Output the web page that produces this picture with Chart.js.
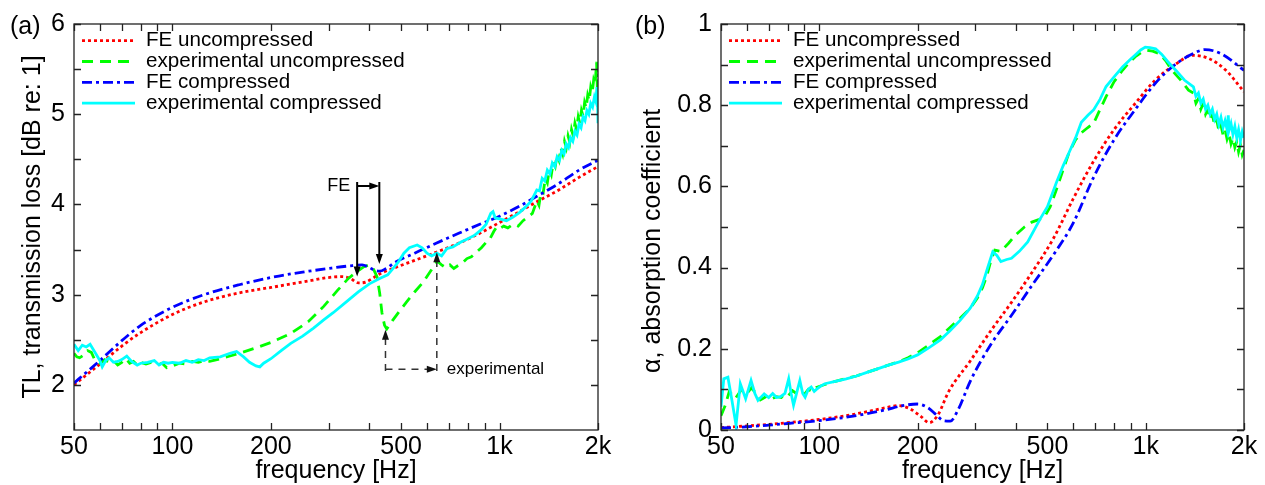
<!DOCTYPE html>
<html>
<head>
<meta charset="utf-8">
<title>TL and absorption</title>
<script src="https://cdn.jsdelivr.net/npm/chart.js@4.4.1/dist/chart.umd.min.js"></script>
<style>
  html, body { margin: 0; padding: 0; background: #fff; }
  canvas { position: absolute; top: 0; }
  #chartA { left: 0; }
  #chartB { left: 620px; }
</style>
</head>
<body>
<canvas id="chartA" width="620" height="485"></canvas>
<canvas id="chartB" width="645" height="485"></canvas>
<script>
// ---------- data ----------
const seriesNames = ['FE uncompressed', 'experimental uncompressed', 'FE compressed', 'experimental compressed'];

// frequency axis (Hz)
const freqTicks = [50, 60, 70, 80, 90, 100, 200, 300, 400, 500, 600, 700, 800, 900, 1000, 2000];
const freqLabelValues = [50, 100, 200, 500, 1000, 2000];
const freqLabelText = ['50', '100', '200', '500', '1k', '2k'];

// (a) transmission loss axis
const tlTicks = [2, 2.5, 3, 3.5, 4, 4.5, 5, 5.5, 6];
const tlTickText = ['2', '', '3', '', '4', '', '5', '', '6'];
// (b) absorption axis
const alphaTicks = [0, 0.1, 0.2, 0.3, 0.4, 0.5, 0.6, 0.7, 0.8, 0.9, 1];
const alphaTickText = ['0', '', '0.2', '', '0.4', '', '0.6', '', '0.8', '', '1'];

// (a) TL, FE uncompressed
const tlFeUncFreq = [50, 55, 60, 70, 80, 100, 125, 160, 200, 250,
  300, 330, 350, 370, 390, 430, 480, 550, 640, 750,
  870, 1000, 1150, 1300, 1500, 1750, 2000];
const tlFeUnc = [2.00, 2.12, 2.23, 2.43, 2.58, 2.78, 2.92, 3.02, 3.08, 3.14,
  3.19, 3.20, 3.18, 3.13, 3.14, 3.23, 3.30, 3.38, 3.47, 3.57,
  3.68, 3.80, 3.92, 4.03, 4.15, 4.30, 4.42];

// (a) TL, FE compressed
const tlFeCmpFreq = [50, 55, 60, 70, 80, 100, 125, 160, 200, 250,
  300, 350, 380, 400, 415, 430, 450, 480, 550, 640,
  750, 870, 1000, 1150, 1300, 1500, 1750, 2000];
const tlFeCmp = [2.02, 2.15, 2.27, 2.49, 2.66, 2.86, 3.00, 3.11, 3.19, 3.25,
  3.29, 3.32, 3.33, 3.30, 3.27, 3.26, 3.29, 3.36, 3.46, 3.57,
  3.68, 3.78, 3.87, 3.98, 4.09, 4.22, 4.38, 4.49];

// (a) TL, experimental uncompressed
const tlExpUncFreq = [50, 51, 52, 53.5, 55, 56.5, 58, 60, 62, 64,
  66, 68, 70, 72, 74, 76, 78, 80, 83, 86,
  90, 93, 96, 100, 105, 110, 115, 120, 125, 130,
  140, 150, 160, 180, 200, 230, 260, 290, 320, 345,
  365, 385, 400, 412, 422, 430, 437, 445, 452, 470,
  495, 520, 550, 585, 615, 645, 665, 685, 705, 725,
  745, 770, 795, 820, 850, 880, 910, 935, 960, 980,
  1000, 1030, 1060, 1100, 1140, 1180, 1220, 1260, 1300, 1320,
  1340, 1360, 1380, 1400, 1420, 1440, 1460, 1480, 1500, 1520,
  1540, 1560, 1580, 1600, 1620, 1640, 1660, 1680, 1700, 1720,
  1740, 1760, 1780, 1800, 1820, 1840, 1860, 1880, 1900, 1920,
  1940, 1960, 1980, 1990, 2000];
const tlExpUnc = [2.35, 2.31, 2.30, 2.33, 2.38, 2.36, 2.27, 2.24, 2.28, 2.25,
  2.27, 2.22, 2.25, 2.29, 2.24, 2.26, 2.22, 2.25, 2.23, 2.25,
  2.22, 2.24, 2.19, 2.21, 2.24, 2.23, 2.26, 2.25, 2.27, 2.26,
  2.29, 2.32, 2.35, 2.41, 2.47, 2.57, 2.70, 2.87, 3.05, 3.18,
  3.25, 3.31, 3.33, 3.28, 3.20, 3.02, 2.80, 2.66, 2.62, 2.71,
  2.82, 2.92, 3.03, 3.14, 3.26, 3.37, 3.33, 3.30, 3.33, 3.29,
  3.32, 3.35, 3.40, 3.42, 3.47, 3.52, 3.58, 3.62, 3.70, 3.75,
  3.73, 3.76, 3.74, 3.78, 3.76, 3.82, 3.86, 3.90, 4.04, 3.99,
  4.15, 4.13, 4.29, 4.24, 4.39, 4.33, 4.47, 4.42, 4.55, 4.49,
  4.63, 4.56, 4.70, 4.63, 4.76, 4.69, 4.83, 4.76, 4.90, 4.83,
  4.97, 4.90, 5.04, 4.98, 5.13, 5.07, 5.21, 5.15, 5.30, 5.24,
  5.38, 5.33, 5.58, 5.30, 5.45];

// (a) TL, experimental compressed
const tlExpCmpFreq = [50, 51.5, 53, 54.5, 56, 58, 60, 61, 62.5, 64,
  66, 68, 70, 72.5, 75, 78, 80, 84, 88, 91,
  94, 97, 100, 105, 110, 115, 120, 125, 130, 140,
  150, 157, 165, 172, 180, 185, 190, 200, 215, 230,
  250, 270, 290, 310, 340, 370, 400, 430, 455, 470,
  490, 510, 530, 560, 580, 600, 620, 643, 665, 690,
  720, 760, 800, 840, 880, 910, 940, 955, 970, 1000,
  1050, 1100, 1150, 1200, 1250, 1300, 1325, 1350, 1375, 1400,
  1425, 1450, 1475, 1500, 1525, 1550, 1575, 1600, 1625, 1650,
  1675, 1700, 1725, 1750, 1775, 1800, 1825, 1850, 1875, 1900,
  1925, 1950, 1970, 1985, 1995, 2000];
const tlExpCmp = [2.45, 2.38, 2.44, 2.42, 2.45, 2.36, 2.27, 2.20, 2.27, 2.30,
  2.25, 2.26, 2.28, 2.32, 2.26, 2.22, 2.24, 2.25, 2.27, 2.22,
  2.25, 2.24, 2.25, 2.24, 2.27, 2.25, 2.28, 2.27, 2.30, 2.31,
  2.35, 2.37, 2.31, 2.25, 2.21, 2.20, 2.24, 2.29, 2.38, 2.46,
  2.54, 2.63, 2.72, 2.80, 2.92, 3.03, 3.12, 3.18, 3.22, 3.28,
  3.36, 3.46, 3.52, 3.55, 3.52, 3.46, 3.43, 3.46, 3.43, 3.51,
  3.53, 3.58, 3.62, 3.66, 3.72, 3.78, 3.90, 3.92, 3.85, 3.84,
  3.82, 3.86, 3.91, 3.97, 4.04, 4.16, 4.15, 4.29, 4.26, 4.38,
  4.34, 4.46, 4.42, 4.53, 4.49, 4.60, 4.56, 4.67, 4.63, 4.74,
  4.70, 4.81, 4.77, 4.89, 4.85, 4.97, 4.93, 5.04, 5.00, 5.12,
  5.08, 5.19, 5.14, 5.30, 5.10, 4.90];

// (b) alpha, FE uncompressed
const abFeUncFreq = [50, 60, 70, 80, 100, 120, 140, 160, 175, 190,
  205, 217, 230, 250, 290, 335, 390, 450, 520, 600,
  690, 800, 930, 1070, 1240, 1390, 1560, 1760, 2000];
const abFeUnc = [0.006, 0.010, 0.014, 0.018, 0.026, 0.035, 0.045, 0.055, 0.060, 0.052,
  0.033, 0.018, 0.035, 0.097, 0.170, 0.244, 0.317, 0.390, 0.470, 0.570,
  0.660, 0.740, 0.805, 0.862, 0.902, 0.923, 0.915, 0.886, 0.833];

// (b) alpha, FE compressed
const abFeCmpFreq = [50, 60, 70, 80, 100, 120, 140, 160, 180, 200,
  215, 228, 240, 252, 266, 290, 335, 390, 450, 520,
  600, 690, 800, 930, 1070, 1240, 1430, 1520, 1700, 2000];
const abFeCmp = [0.005, 0.008, 0.012, 0.016, 0.023, 0.031, 0.040, 0.050, 0.060, 0.064,
  0.055, 0.038, 0.023, 0.022, 0.049, 0.120, 0.210, 0.285, 0.358, 0.430,
  0.510, 0.620, 0.715, 0.790, 0.854, 0.902, 0.931, 0.937, 0.927, 0.886];

// (b) alpha, experimental uncompressed
const abExpUncFreq = [50, 51.5, 53, 55.4, 57.8, 60, 62, 64, 66, 68,
  70, 72, 74, 76.5, 78.3, 80.5, 82.8, 85, 87.6, 90,
  92.6, 95, 98, 104, 112, 121, 130, 140, 150, 162,
  175, 187, 200, 217, 235, 251, 270, 290, 305, 316,
  326, 335, 345, 360, 380, 399, 425, 448, 470, 489,
  510, 533, 558, 582, 610, 635, 665, 693, 725, 756,
  800, 849, 890, 927, 970, 1011, 1050, 1103, 1150, 1203,
  1280, 1352, 1400, 1425, 1450, 1475, 1500, 1525, 1550, 1575,
  1600, 1625, 1650, 1675, 1700, 1725, 1750, 1775, 1800, 1825,
  1850, 1875, 1900, 1925, 1950, 1975, 2000];
const abExpUnc = [0.035, 0.060, 0.095, 0.078, 0.100, 0.090, 0.104, 0.090, 0.074, 0.080,
  0.086, 0.078, 0.082, 0.080, 0.089, 0.085, 0.097, 0.090, 0.094, 0.088,
  0.100, 0.095, 0.105, 0.112, 0.120, 0.127, 0.133, 0.142, 0.150, 0.159,
  0.168, 0.178, 0.190, 0.210, 0.230, 0.252, 0.275, 0.300, 0.325, 0.350,
  0.380, 0.415, 0.443, 0.440, 0.460, 0.480, 0.500, 0.512, 0.518, 0.524,
  0.550, 0.593, 0.640, 0.683, 0.715, 0.732, 0.745, 0.756, 0.790, 0.821,
  0.858, 0.886, 0.905, 0.919, 0.930, 0.935, 0.933, 0.927, 0.910, 0.886,
  0.862, 0.837, 0.830, 0.805, 0.816, 0.790, 0.804, 0.778, 0.790, 0.765,
  0.777, 0.750, 0.763, 0.737, 0.751, 0.727, 0.740, 0.716, 0.730, 0.705,
  0.719, 0.696, 0.710, 0.685, 0.702, 0.678, 0.690];

// (b) alpha, experimental compressed
const abExpCmpFreq = [50, 51, 52.5, 54, 55.6, 57.3, 59.5, 61.8, 63.5, 64.9,
  67.8, 70, 72, 74, 76.1, 78.5, 80.6, 82, 83.4, 85.5,
  87.2, 89, 90.5, 92.5, 94.5, 96.5, 98, 101, 104, 112,
  121, 130, 140, 150, 162, 175, 187, 200, 217, 235,
  251, 270, 290, 305, 316, 328, 340, 350, 360, 375,
  388, 410, 435, 475, 500, 533, 558, 582, 610, 635,
  665, 693, 725, 756, 800, 849, 890, 927, 965, 997,
  1030, 1072, 1120, 1169, 1240, 1313, 1400, 1425, 1450, 1475,
  1500, 1525, 1550, 1575, 1600, 1625, 1650, 1675, 1700, 1725,
  1750, 1775, 1790, 1800, 1825, 1850, 1875, 1900, 1925, 1950,
  1975, 2000];
const abExpCmp = [0.057, 0.126, 0.130, 0.073, 0.012, 0.114, 0.077, 0.122, 0.090, 0.073,
  0.089, 0.080, 0.090, 0.080, 0.082, 0.090, 0.126, 0.090, 0.061, 0.095,
  0.122, 0.090, 0.081, 0.100, 0.106, 0.095, 0.100, 0.108, 0.114, 0.120,
  0.126, 0.133, 0.142, 0.150, 0.159, 0.167, 0.175, 0.185, 0.203, 0.222,
  0.244, 0.270, 0.300, 0.330, 0.358, 0.400, 0.439, 0.430, 0.415, 0.420,
  0.423, 0.440, 0.463, 0.520, 0.550, 0.610, 0.650, 0.683, 0.720, 0.758,
  0.775, 0.789, 0.815, 0.846, 0.870, 0.894, 0.910, 0.923, 0.936, 0.943,
  0.942, 0.939, 0.925, 0.907, 0.885, 0.862, 0.845, 0.822, 0.830, 0.805,
  0.815, 0.790, 0.800, 0.778, 0.790, 0.765, 0.778, 0.752, 0.770, 0.745,
  0.762, 0.740, 0.775, 0.738, 0.755, 0.728, 0.748, 0.720, 0.740, 0.712,
  0.735, 0.720];

// annotation arrows in panel (a), in data units
const feArrowFreq = [367, 429];
const feArrowTip = [3.20, 3.34];
const feArrowTop = 4.25;
const feBracketLevel = 4.205;
const expArrowFreq = [448, 643];
const expArrowTip = [2.61, 3.47];
const expArrowBottom = 2.155;
const expBracketLevel = 2.173;

// ---------- styles ----------
const FONT = "'Liberation Sans', Arial, Helvetica, sans-serif";
const seriesColors = ['#ff0000', '#00ff00', '#0000ff', '#00ffff'];
const seriesDash = [[3, 3], [11, 7], [10, 4, 3, 4], []];
const LINE_W = 2.8;

Chart.defaults.font.family = FONT;
Chart.defaults.color = '#000';

function makeSet(i, freqs, vals, smooth) {
  return {
    label: seriesNames[i],
    data: freqs.map((f, k) => ({ x: f, y: vals[k] })),
    borderColor: seriesColors[i],
    backgroundColor: seriesColors[i],
    borderDash: seriesDash[i],
    borderWidth: LINE_W,
    pointRadius: 0,
    fill: false,
    tension: 0,
    cubicInterpolationMode: smooth ? 'monotone' : 'default',
    order: 4 - i // later series on top, like the original plot
  };
}

// frame + inward tick marks on all four sides
const framePlugin = {
  id: 'frame',
  afterDatasetsDraw(chart) {
    const { ctx, chartArea: a, scales: { x, y } } = chart;
    const len = 7;
    ctx.save();
    ctx.strokeStyle = '#222';
    ctx.lineWidth = 1.3;
    ctx.setLineDash([]);
    ctx.beginPath();
    x.ticks.forEach(t => {
      const px = Math.round(x.getPixelForValue(t.value)) + 0.5;
      ctx.moveTo(px, a.bottom); ctx.lineTo(px, a.bottom - len);
      ctx.moveTo(px, a.top); ctx.lineTo(px, a.top + len);
    });
    y.ticks.forEach(t => {
      const py = Math.round(y.getPixelForValue(t.value)) + 0.5;
      ctx.moveTo(a.left, py); ctx.lineTo(a.left + len, py);
      ctx.moveTo(a.right, py); ctx.lineTo(a.right - len, py);
    });
    ctx.stroke();
    ctx.strokeRect(a.left, a.top, a.right - a.left, a.bottom - a.top);
    ctx.restore();
  }
};

// legend inside the axes (no box) and the panel tag
const legendPlugin = {
  id: 'inLegend',
  afterDraw(chart, args, opts) {
    const { ctx, chartArea: a } = chart;
    ctx.save();
    chart.data.datasets.forEach((ds, i) => {
      const yy = a.top + 16.7 + i * 20.8;
      ctx.strokeStyle = ds.borderColor;
      ctx.lineWidth = ds.borderWidth;
      ctx.setLineDash(ds.borderDash);
      ctx.beginPath();
      ctx.moveTo(a.left + 8, yy);
      ctx.lineTo(a.left + 61, yy);
      ctx.stroke();
      ctx.setLineDash([]);
      ctx.fillStyle = '#000';
      ctx.font = '20.6px ' + FONT;
      ctx.textAlign = 'left';
      ctx.textBaseline = 'middle';
      ctx.fillText(ds.label, a.left + 72, yy);
    });
    ctx.font = '25px ' + FONT;
    ctx.textBaseline = 'middle';
    ctx.fillText(opts.tag, opts.tagX, 27);
    ctx.restore();
  }
};

function arrowHead(ctx, x, y, dir) {
  const L = 10, W = 3.5;
  ctx.beginPath();
  if (dir === 'down') { ctx.moveTo(x, y); ctx.lineTo(x - W, y - L); ctx.lineTo(x + W, y - L); }
  if (dir === 'up') { ctx.moveTo(x, y); ctx.lineTo(x - W, y + L); ctx.lineTo(x + W, y + L); }
  if (dir === 'right') { ctx.moveTo(x, y); ctx.lineTo(x - L, y - W); ctx.lineTo(x - L, y + W); }
  ctx.closePath();
  ctx.fill();
}

// FE / experimental shift arrows of panel (a)
const annotatePlugin = {
  id: 'shiftArrows',
  afterDatasetsDraw(chart) {
    const { ctx, scales: { x, y } } = chart;
    ctx.save();
    // FE: solid
    const fx = feArrowFreq.map(f => x.getPixelForValue(f));
    const fyTop = y.getPixelForValue(feArrowTop);
    const fyLev = y.getPixelForValue(feBracketLevel);
    ctx.strokeStyle = '#000';
    ctx.fillStyle = '#000';
    ctx.lineWidth = 2;
    ctx.beginPath();
    fx.forEach((px, i) => {
      ctx.moveTo(px, fyTop);
      ctx.lineTo(px, y.getPixelForValue(feArrowTip[i]) - 4);
    });
    ctx.moveTo(fx[0], fyLev); ctx.lineTo(fx[1] - 4, fyLev);
    ctx.stroke();
    fx.forEach((px, i) => arrowHead(ctx, px, y.getPixelForValue(feArrowTip[i]), 'down'));
    arrowHead(ctx, fx[1], fyLev, 'right');
    ctx.font = '18px ' + FONT;
    ctx.textAlign = 'right';
    ctx.textBaseline = 'middle';
    ctx.fillText('FE', fx[0] - 7, fyLev);

    // experimental: dashed
    const ex = expArrowFreq.map(f => x.getPixelForValue(f));
    const eyBot = y.getPixelForValue(expArrowBottom);
    const eyLev = y.getPixelForValue(expBracketLevel);
    ctx.strokeStyle = '#333';
    ctx.fillStyle = '#111';
    ctx.lineWidth = 1.5;
    ctx.setLineDash([7, 6]);
    ctx.beginPath();
    ex.forEach((px, i) => {
      ctx.moveTo(px, eyBot);
      ctx.lineTo(px, y.getPixelForValue(expArrowTip[i]) + 6);
    });
    ctx.moveTo(ex[0], eyLev); ctx.lineTo(ex[1] - 6, eyLev);
    ctx.stroke();
    ctx.setLineDash([]);
    ex.forEach((px, i) => arrowHead(ctx, px, y.getPixelForValue(expArrowTip[i]), 'up'));
    arrowHead(ctx, ex[1], eyLev, 'right');
    ctx.fillStyle = '#000';
    ctx.font = '17px ' + FONT;
    ctx.textAlign = 'left';
    ctx.fillText('experimental', ex[1] + 10, eyLev);
    ctx.restore();
  }
};

function makeOptions(cfg) {
  return {
    responsive: false,
    animation: false,
    layout: { padding: { left: 0, top: 20, right: cfg.padRight, bottom: 0 } },
    plugins: {
      legend: { display: false },
      tooltip: { enabled: false },
      inLegend: { tag: cfg.tag, tagX: cfg.tagX }
    },
    scales: {
      x: {
        type: 'logarithmic',
        min: 50,
        max: 2000,
        grid: { display: false, drawTicks: false },
        border: { display: false },
        afterBuildTicks: (s) => { s.ticks = freqTicks.map(v => ({ value: v })); },
        afterFit: (s) => { s.height = 55; },
        ticks: {
          autoSkip: false,
          maxRotation: 0,
          minRotation: 0,
          padding: 2,
          font: { size: 25 },
          callback: (v) => {
            const k = freqLabelValues.indexOf(v);
            return k < 0 ? '' : freqLabelText[k];
          }
        },
        title: {
          display: true,
          text: 'frequency [Hz]',
          font: { size: 25, lineHeight: 1.12 },
          padding: 0
        }
      },
      y: {
        min: cfg.yMin,
        max: cfg.yMax,
        grid: { display: false, drawTicks: false },
        border: { display: false },
        afterBuildTicks: (s) => { s.ticks = cfg.yTicks.map(v => ({ value: v })); },
        afterFit: (s) => { s.width = cfg.yWidth; },
        ticks: {
          autoSkip: false,
          padding: 9,
          font: { size: 25 },
          callback: (v) => {
            const k = cfg.yTicks.indexOf(v);
            return k < 0 ? '' : cfg.yTickText[k];
          }
        },
        title: {
          display: true,
          text: cfg.yTitle,
          font: { size: 25 },
          padding: { top: 18, bottom: 0 }
        }
      }
    }
  };
}

// ---------- panel (a): transmission loss ----------
new Chart(document.getElementById('chartA'), {
  type: 'line',
  data: {
    datasets: [
      makeSet(0, tlFeUncFreq, tlFeUnc, true),
      makeSet(1, tlExpUncFreq, tlExpUnc, false),
      makeSet(2, tlFeCmpFreq, tlFeCmp, true),
      makeSet(3, tlExpCmpFreq, tlExpCmp, false)
    ]
  },
  options: makeOptions({
    padRight: 22, yWidth: 74, yMin: 1.5, yMax: 6,
    yTicks: tlTicks, yTickText: tlTickText,
    yTitle: 'TL, transmission loss [dB re: 1]',
    tag: '(a)', tagX: 10
  }),
  plugins: [framePlugin, legendPlugin, annotatePlugin]
});

// ---------- panel (b): absorption coefficient ----------
// trailing spaces nudge the rotated title a little lower, as in the original
new Chart(document.getElementById('chartB'), {
  type: 'line',
  data: {
    datasets: [
      makeSet(0, abFeUncFreq, abFeUnc, true),
      makeSet(1, abExpUncFreq, abExpUnc, false),
      makeSet(2, abFeCmpFreq, abFeCmp, true),
      makeSet(3, abExpCmpFreq, abExpCmp, false)
    ]
  },
  options: makeOptions({
    padRight: 21, yWidth: 101, yMin: 0, yMax: 1,
    yTicks: alphaTicks, yTickText: alphaTickText,
    yTitle: 'α, absorption coefficient    ',
    tag: '(b)', tagX: 15
  }),
  plugins: [framePlugin, legendPlugin]
});
</script>
</body>
</html>
